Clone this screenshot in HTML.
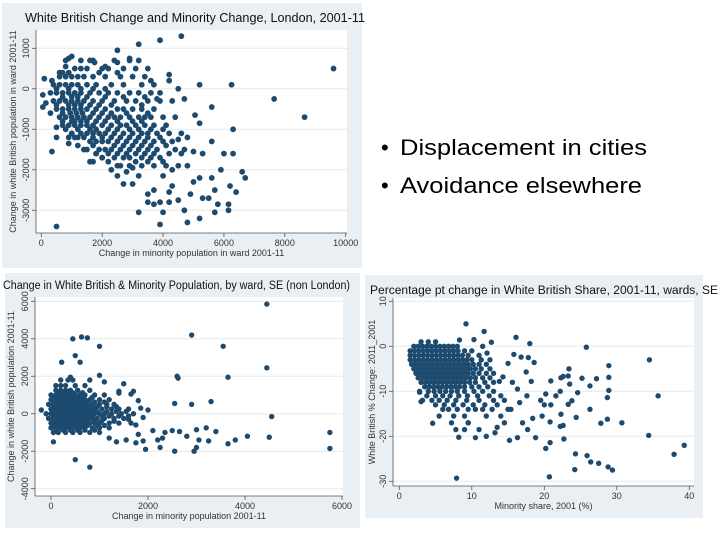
<!DOCTYPE html>
<html><head><meta charset="utf-8"><style>
html,body{margin:0;padding:0;background:#fff;width:720px;height:540px;overflow:hidden}
svg{display:block;font-family:"Liberation Sans",sans-serif}
</style></head><body>
<svg id="slide" width="720" height="540" viewBox="0 0 720 540">
<g>
<text x="381" y="155" font-size="22">•</text>
<text x="400" y="155" font-size="22" textLength="247" lengthAdjust="spacingAndGlyphs">Displacement in cities</text>
<text x="381" y="193" font-size="22">•</text>
<text x="400" y="193" font-size="22" textLength="242" lengthAdjust="spacingAndGlyphs">Avoidance elsewhere</text>
</g>
</svg>
<script>
// ---------- Chart 1: London ----------
const c1XTicks = [0,2000,4000,6000,8000,10000];
const c1YTicks = [1000,0,-1000,-2000,-3000];
const c1Points = [[4600,1300],[3900,1200],[3200,1100],[2500,950],[9600,500],[7650,-250],[8650,-700],[6250,100],[5200,100],[6300,-1000],[5600,-450],[500,-3400],[350,-1550],[3900,-3350],[4800,-3300],[5200,-3200],[3200,-3050],[4000,-3050],[4700,-3000],[5700,-3050],[6150,-3000],[6150,-2850],[5800,-2850],[6700,-2200],[6600,-2050],[6400,-2550],[6200,-2400],[6000,-1600],[6300,-1600],[5900,-2000],[5700,-2500],[5500,-2700],[5300,-2700],[5000,-2300],[4900,-2600],[4500,-2750],[4200,-2800],[3900,-2800],[3700,-2850],[3500,-2800],[3500,-2600],[3700,-2500],[4300,-2400],[4200,-2550],[4000,-2150],[4100,-1900],[4300,-2000],[4500,-1900],[4800,-1900],[4600,-1600],[5000,-1550],[5300,-1600],[5200,-2200],[5600,-2200],[5600,-1300],[5200,-850],[5050,-650],[4800,-1200],[4500,-1250],[4700,-250],[4500,0],[4200,350],[4200,200],[3800,-250],[3600,200],[3500,500],[3200,700],[2900,750],[2500,650],[2100,550],[1750,650],[1600,700],[1000,800],[900,750],[800,550],[600,400],[350,200],[100,250],[50,-150],[50,-450],[150,-350],[300,-600],[500,-950],[500,-1200],[900,-1350],[1000,-1100],[1200,-1200],[1400,-1500],[1600,-1800],[1800,-1600],[2000,-1700],[2300,-2000],[2500,-2150],[2700,-2350],[3000,-2350],[3200,-2150],[3000,-1950],[2800,-2050],[2500,-1900]];
const c1Rows = [[700,[800,1300,1700,2400,2900]],[500,[1100,1300,1500,2000,2200,2700,3100]],[400,[700,900,1900,2500]],[300,[600,800,1000,1200,1400,1700,2100,2600,3000,3400]],[100,[400,600,800,1000,1200,1500,1800,2300,2700,3300,3700]],[0,[500,900,1300,1700,2100]],[-100,[300,500,700,900,1100,1300,1600,1900,2200,2500,2900,3200,3600,3900]],[-200,[700,1000,1200,1500,2100,2700,3400]],[-300,[400,600,800,1000,1200,1400,1700,2000,2400,2800,3100,3500,3900,4300]],[-400,[500,900,1100,1300,1600,1900,2300,3300]],[-500,[500,700,900,1100,1300,1500,1800,2100,2500,2700,3000,3300,3700]],[-600,[700,950,1150,1350,1700,2000,2300,2800,3500]],[-700,[600,800,1000,1200,1400,1600,1900,2200,2400,2600,2900,3200,3400,3600,4000,4400]],[-800,[700,1000,1100,1300,1500,1800,2100,2500,3000,3300]],[-900,[700,900,1100,1300,1500,1700,2000,2300,2600,2800,3100,3400,3700,4100]],[-1000,[800,1200,1600,1800,2200,2500,2900,3200,3600,4000]],[-1100,[1000,1300,1500,1700,1900,2100,2400,2700,3000,3300,3500,3800,4200,4600]],[-1200,[900,1100,1400,1700,2000,2300,2600,2900,3200,3500,3900]],[-1300,[1600,1800,2000,2200,2500,2800,3100,3400,3700,4000,4300]],[-1400,[1200,1700,2400,2700,3000,3300,3600,4100]],[-1500,[1500,1900,2100,2300,2600,2900,3200,3500,3800,4400,4700]],[-1600,[1800,2200,2500,2800,3100,3400,3700,4200]],[-1700,[2000,2400,2700,2900,3300,3600,3900]],[-1800,[1700,2200,3100,3500,4000]],[-1900,[2600,2900,3300,3700]]];

// ---------- Chart 2: SE non-London ----------
const c2XTicks = [0,2000,4000,6000];
const c2YTicks = [6000,4000,2000,0,-2000,-4000];
const c2Points = [[4450,5850],[2900,4200],[3550,3600],[4450,2450],[3650,1950],[2600,2000],[2620,1900],[4550,-150],[5750,-1000],[5750,-1850],[4500,-1250],[4050,-1200],[3800,-1400],[3650,-1600],[3250,-1450],[3050,-1400],[3000,-1800],[2950,-2000],[3000,-850],[3200,-750],[3400,-950],[3300,650],[2900,500],[2550,550],[2500,-900],[2350,-1000],[2300,-1300],[2200,-1400],[2250,-1800],[2550,-2000],[2800,-1200],[2650,-950],[2100,-900],[1950,-1900],[1800,-1100],[1900,-1450],[1750,-1550],[1550,-1400],[1350,-1500],[500,-2450],[800,-2850],[450,4000],[630,4100],[750,4050],[1000,3600],[500,3100],[600,2750],[220,2750],[1500,1600],[1650,1050],[1800,700],[1850,300],[2000,200],[1900,-200],[1400,1100],[1100,1700],[-200,200],[50,-1500],[1200,-1300],[1000,2050],[400,1950],[1300,-400],[1600,-300],[1750,-600]];
const c2Rows = [[1800,[200,350,450,800]],[1500,[100,200,300,500,700]],[1250,[100,200,300,400,550,800]],[1200,[1400,1700]],[1125,[150,250,350,450,650]],[1000,[0,100,200,300,400,500,600,700,900,1100]],[875,[50,150,250,350,450,550,650,850]],[750,[0,100,200,300,400,500,600,700,800,1000,1200]],[625,[50,150,250,350,450,550,650,750,900,1100]],[500,[-50,50,150,250,350,450,550,650,750,850,1000,1150,1300]],[375,[50,150,250,350,450,550,650,750,850,950,1150,1350]],[250,[0,100,200,300,400,500,600,700,800,900,1050,1250,1400,1600]],[125,[50,150,250,350,450,550,650,750,850,950,1150,1350,1550]],[0,[-100,0,100,200,300,400,500,600,700,800,900,1000,1100,1250,1450,1700]],[-125,[50,150,250,350,450,550,650,750,850,1050,1200,1400,1600]],[-250,[-50,50,150,250,350,450,550,650,750,850,950,1100,1300,1500]],[-375,[50,150,250,350,450,550,650,750,900,1050,1300]],[-500,[0,100,200,300,400,500,600,700,800,900,1000,1200,1400,1650]],[-625,[50,150,250,350,450,550,650,750,950,1100]],[-750,[0,100,200,300,400,500,600,700,850,1000,1200]],[-875,[100,250,400,550,700,900]],[-1000,[50,150,300,450,600,800,1000]]];

// ---------- Chart 3: % pt change ----------
const c3XTicks = [0,10,20,30,40];
const c3YTicks = [10,0,-10,-20,-30];
const c3Points = [[9.2,5],[11.7,3.3],[16.1,2],[18,0.6],[25.8,-0.2],[34.5,-3],[28.9,-4.3],[23.4,-5],[35.7,-11],[30.7,-17],[34.4,-19.8],[37.9,-24],[39.3,-22],[29.4,-27.5],[28.8,-26.8],[27.5,-26],[26.4,-25.7],[25.9,-24.3],[24.3,-23.9],[24.2,-27.4],[20.7,-29],[7.9,-29.3],[20.2,-22.7],[20.8,-21.4],[22.7,-20.6],[18.8,-20.3],[15.2,-20.9],[16.3,-20.3],[10.5,-20.3],[8.2,-20.2],[4.6,-17.1],[12,-20],[13.2,-19.2],[22.2,-17.8],[22.6,-17.6],[24.4,-15.8],[26.3,-14],[28.7,-16.2],[27.8,-17.1],[28.7,-11.4],[28.9,-9.8],[28.9,-6.9],[27.2,-7.2],[25.2,-7.1],[26.3,-8.8],[24.6,-10.3],[23.8,-12.1],[23.3,-12.9],[22.3,-15.1],[22.2,-10],[21.6,-11],[20.9,-13],[20,-13],[19.5,-12],[20.2,-10.6],[19.7,-15.5],[20.8,-16.8],[18.4,-16],[17,-17],[17.7,-18.5],[14.5,-17],[13.5,-18],[20.9,-7.7],[22.3,-7],[22.6,-6.7],[23.3,-6.6],[23.5,-8.4],[18.2,-7.8],[18.6,-3.6],[17.8,-2.5],[16.8,-2.4],[15.8,-1.8],[17.5,-5.7],[15,-3.8],[14.3,-6.8],[13.8,-7.8],[17.6,-11],[16.3,-9.5],[15.6,-8],[16.6,-12.5],[15.4,-14],[12.7,0.9],[10.3,1.5],[8.3,1.4],[11.5,0],[12.5,-3],[12.1,-1.5],[3,-12.3],[2.8,-10.2],[10.5,-14],[9.5,-17]];
const c3Rows = [[1,[3,4,5]],[0,[2,2.6,3.2,3.8,4.4,5,5.6,6.2,6.8,7.4,8]],[-1,[1.5,2.1,2.7,3.3,3.9,4.5,5.1,5.7,6.3,6.9,7.5,8.1,9,10]],[-2,[1.5,2.1,2.7,3.3,3.9,4.5,5.1,5.7,6.3,6.9,7.5,8.1,8.7,9.5,11]],[-3,[1.5,2.1,2.7,3.3,3.9,4.5,5.1,5.7,6.3,6.9,7.5,8.1,8.7,9.3,10,11.3]],[-4,[1.7,2.3,2.9,3.5,4.1,4.7,5.3,5.9,6.5,7.1,7.7,8.3,8.9,9.5,10.2,11,12]],[-5,[2,2.6,3.2,3.8,4.4,5,5.6,6.2,6.8,7.4,8,8.6,9.2,9.8,10.5,11.3,12.5]],[-6,[2.3,2.9,3.5,4.1,4.7,5.3,5.9,6.5,7.1,7.7,8.3,8.9,9.5,10.2,11,12,13]],[-7,[2.6,3.2,3.8,4.4,5,5.6,6.2,6.8,7.4,8,8.6,9.2,9.8,10.5,11.5,12.5]],[-8,[3,3.6,4.2,4.8,5.4,6,6.6,7.2,7.8,8.4,9,9.7,10.5,11.8,13]],[-9,[3.5,4.1,4.7,5.3,5.9,6.5,7.1,7.7,8.3,9,10,11,12.2]],[-10,[2.8,4,4.8,5.6,6.4,7.2,8,9,10.3,11.5,13]],[-11,[3.8,5,6,7,8.2,9.4,10.8,12.4,14]],[-12,[3.2,4.5,5.5,6.6,7.8,9.3,11,13,14.5]],[-13,[5,6.2,7.5,8.8,10.2,11.8,13.5]],[-14,[6,6.8,8,9.5,11.5,12.8,15]],[-15.5,[5.5,7.5,9,12,14]],[-17,[7.2,9.5]],[-18.5,[7.8,9,11]]];

const NS = 'http://www.w3.org/2000/svg';
const svg = document.getElementById('slide');
function mk(tag, attrs, parent, text){
  const e = document.createElementNS(NS, tag);
  for (const k in attrs) e.setAttribute(k, attrs[k]);
  if (text !== undefined) e.textContent = text;
  parent.appendChild(e);
  return e;
}
function scatter(cfg, points, rows, xTicks, yTicks){
  const g = mk('g', {}, svg);
  
  
  const sx = v => cfg.x0 + (v - cfg.xa) / (cfg.xb - cfg.xa) * (cfg.x1 - cfg.x0);
  const sy = v => cfg.y0 + (v - cfg.ya) / (cfg.yb - cfg.ya) * (cfg.y1 - cfg.y0);
  const panel = mk('rect', {x:cfg.px, y:cfg.py, width:cfg.pw, height:cfg.ph, fill:'#e9eff3'}, g);
  
  
  const plot = mk('rect', {x:cfg.ax, y:cfg.ay, width:cfg.aw, height:cfg.ah, fill:'#ffffff'}, g);
  
  
  yTicks.forEach(t => {
    const y = sy(t);
    const gl = mk('line', {x1:cfg.ax, x2:cfg.ax+cfg.aw, y1:y, y2:y, stroke:'#e3eaee', 'stroke-width':1}, g);
    
    
    const tk = mk('line', {x1:cfg.ax-4, x2:cfg.ax, y1:y, y2:y, stroke:'#555', 'stroke-width':0.8}, g);
    
    
    const lb = mk('text', {x:0, y:0, 'font-size':cfg.tf, fill:'#333', 'text-anchor':'middle', transform:`translate(${cfg.ax-7},${y}) rotate(-90)`}, g, String(t));
    
    
  });
  xTicks.forEach(t => {
    const x = sx(t);
    const tk = mk('line', {x1:x, x2:x, y1:cfg.ay+cfg.ah, y2:cfg.ay+cfg.ah+4, stroke:'#555', 'stroke-width':0.8}, g);
    
    
    const lb = mk('text', {x:x, y:cfg.ay+cfg.ah+cfg.tf+4, 'font-size':cfg.tf, fill:'#333', 'text-anchor':'middle'}, g, String(t));
    
    
  });
  const ya = mk('line', {x1:cfg.ax, x2:cfg.ax, y1:cfg.ay, y2:cfg.ay+cfg.ah, stroke:'#555', 'stroke-width':0.8}, g);
  
  
  const xa = mk('line', {x1:cfg.ax, x2:cfg.ax+cfg.aw, y1:cfg.ay+cfg.ah, y2:cfg.ay+cfg.ah, stroke:'#555', 'stroke-width':0.8}, g);
  
  
  const all = points.slice();
  rows.forEach(r => r[1].forEach(xv => all.push([xv, r[0]])));
  all.forEach(p => {
    const c = mk('circle', {cx:sx(p[0]), cy:sy(p[1]), r:cfg.r, fill:'#1d4a6f'}, g);
    
    
  });
  const ti = mk('text', {x:cfg.tx, y:cfg.ty, 'font-size':cfg.tfs, fill:'#111', textLength:cfg.tl, lengthAdjust:'spacingAndGlyphs'}, g, cfg.title);
  
  
  const xt = mk('text', {x:cfg.ax+cfg.aw/2, y:cfg.xty, 'font-size':cfg.af, fill:'#333', 'text-anchor':'middle'}, g, cfg.xtitle);
  
  
  const yt = mk('text', {x:0, y:0, 'font-size':cfg.af, fill:'#333', 'text-anchor':'middle', transform:`translate(${cfg.ytx},${cfg.ay+cfg.ah/2}) rotate(-90)`}, g, cfg.ytitle);
  
  
}
scatter({name:'chart-london', px:2, py:3, pw:360, ph:265, ax:36, ay:30, aw:311, ah:203,
  xa:0, xb:10000, x0:41.3, x1:345.7, ya:1000, yb:-3000, y0:48.3, y1:210.3, r:2.9, tf:9, af:9, tfs:12.5,
  tx:25, ty:22, tl:340, title:'White British Change and Minority Change, London, 2001-11',
  xty:256, xtitle:'Change in minority population in ward 2001-11', ytx:16, ytitle:'Change in white British population in ward 2001-11'},
  c1Points, c1Rows, c1XTicks, c1YTicks);
scatter({name:'chart-se-non-london', px:5, py:273, pw:355, ph:255, ax:35, ay:297, aw:308, ah:199,
  xa:0, xb:6000, x0:51, x1:342, ya:6000, yb:-4000, y0:301.3, y1:488.7, r:2.7, tf:9, af:9, tfs:11.5,
  tx:3, ty:289, tl:347, title:'Change in White British & Minority Population, by ward, SE (non London)',
  xty:519, xtitle:'Change in minority population 2001-11', ytx:14, ytitle:'Change in white British population 2001-11'},
  c2Points, c2Rows, c2XTicks, c2YTicks);
scatter({name:'chart-pct-change', px:365, py:275, pw:338, ph:243, ax:393, ay:298, aw:301, ah:188,
  xa:0, xb:40, x0:399.3, x1:689.3, ya:10, yb:-30, y0:301.3, y1:481.3, r:2.7, tf:9, af:9, tfs:11.5,
  tx:370, ty:294, tl:348, title:'Percentage pt change in White British Share, 2001-11, wards, SE',
  xty:509, xtitle:'Minority share, 2001 (%)', ytx:375, ytitle:'White British % Change: 2011_2001'},
  c3Points, c3Rows, c3XTicks, c3YTicks);
</script>
</body></html>
